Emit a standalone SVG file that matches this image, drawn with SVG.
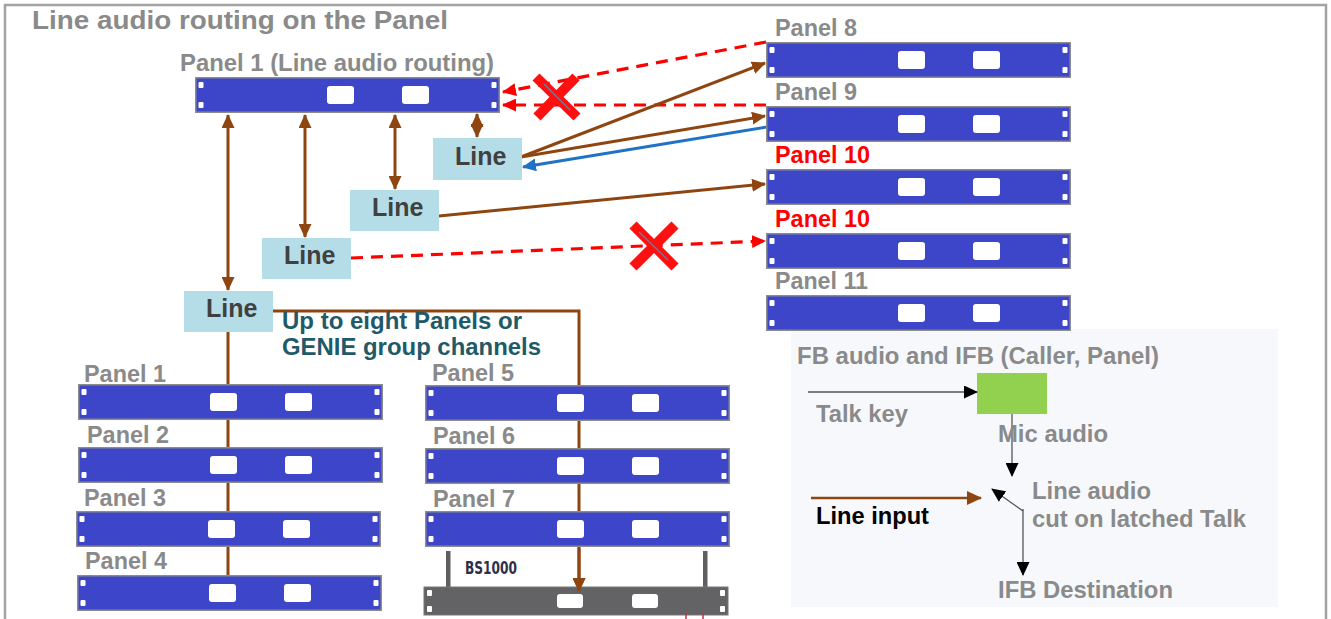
<svg xmlns="http://www.w3.org/2000/svg" width="1331" height="619" viewBox="0 0 1331 619">
<style>
.t{font-family:"Liberation Sans",Arial,sans-serif;font-weight:bold;}
.g{fill:#8a8a8a;font-size:23px;}
.r{fill:#ff0000;font-size:23px;}
.ttl{fill:#8a8a8a;font-size:26px;}
.ln{fill:#404040;font-size:25px;}
.teal{fill:#1f5a68;font-size:23px;}
.box{fill:#b5dde8;}
.br{stroke:#8f4510;stroke-width:3;fill:none;}
.rd{stroke:#ff0000;stroke-width:3.2;stroke-dasharray:12 8;fill:none;}
.bl{stroke:#1f72c4;stroke-width:3;fill:none;}
.thin{stroke:#555;stroke-width:1.3;fill:none;}
.xarm{stroke:#ff1010;stroke-width:10;}
.xin{stroke:#6a7fa8;stroke-width:1.2;}
</style>
<defs>
<symbol id="rack" viewBox="0 0 305 36" width="305" height="36">
<rect x="0.75" y="0.75" width="303.5" height="34.5" fill="#3d46c8" stroke="#8c8c8c" stroke-width="1.5"/>
<rect x="3.5" y="5" width="5" height="6" rx="1" fill="#fff"/>
<rect x="3.5" y="25" width="5" height="6" rx="1" fill="#fff"/>
<rect x="296.5" y="5" width="5" height="6" rx="1" fill="#fff"/>
<rect x="296.5" y="25" width="5" height="6" rx="1" fill="#fff"/>
<rect x="132" y="9" width="27" height="18" rx="3" fill="#fff"/>
<rect x="207" y="9" width="27" height="18" rx="3" fill="#fff"/>
</symbol>
<marker id="ab" viewBox="0 0 14 13" refX="13" refY="6.5" markerWidth="14" markerHeight="13" markerUnits="userSpaceOnUse" orient="auto-start-reverse"><path d="M0,0 L14,6.5 L0,13 z" fill="#8f4510"/></marker>
<marker id="ar" viewBox="0 0 14 13" refX="13" refY="6.5" markerWidth="14" markerHeight="13" markerUnits="userSpaceOnUse" orient="auto-start-reverse"><path d="M0,0 L14,6.5 L0,13 z" fill="#ff0000"/></marker>
<marker id="abl" viewBox="0 0 14 13" refX="13" refY="6.5" markerWidth="14" markerHeight="13" markerUnits="userSpaceOnUse" orient="auto-start-reverse"><path d="M0,0 L14,6.5 L0,13 z" fill="#1f72c4"/></marker>
<marker id="ak" viewBox="0 0 14 13" refX="13" refY="6.5" markerWidth="14" markerHeight="13" markerUnits="userSpaceOnUse" orient="auto"><path d="M0,0 L14,6.5 L0,13 z" fill="#000"/></marker>
<marker id="abig" viewBox="0 0 15 14" refX="14" refY="7" markerWidth="15" markerHeight="14" markerUnits="userSpaceOnUse" orient="auto"><path d="M0,0 L15,7 L0,14 z" fill="#8f4510"/></marker>
</defs>

<rect x="5" y="5" width="1321" height="630" fill="#fff" stroke="#a3a3a3" stroke-width="2.5"/>
<text class="t ttl" x="32" y="29" textLength="416" lengthAdjust="spacingAndGlyphs">Line audio routing on the Panel</text>

<rect id="legend-bg" x="791" y="329" width="487" height="278" fill="#f7f8fc"/>

<g id="connectors">
<line class="br" x1="228" y1="331" x2="228" y2="577"/>
<polyline class="br" points="273,311 579,311 579,591" marker-end="url(#ab)"/>
<line class="br" x1="228" y1="115" x2="228" y2="290" marker-start="url(#ab)" marker-end="url(#ab)"/>
<line class="br" x1="305" y1="115" x2="305" y2="237" marker-start="url(#ab)" marker-end="url(#ab)"/>
<line class="br" x1="395" y1="115" x2="395" y2="189" marker-start="url(#ab)" marker-end="url(#ab)"/>
<line class="br" x1="477" y1="114" x2="477" y2="137" marker-start="url(#ab)" marker-end="url(#ab)"/>
<line class="rd" x1="766" y1="42" x2="503" y2="92" marker-end="url(#ar)"/>
<line class="rd" x1="766" y1="105" x2="503" y2="105" marker-end="url(#ar)"/>
<line class="br" x1="521" y1="157" x2="765" y2="63" marker-end="url(#ab)"/>
<line class="br" x1="521" y1="157" x2="765" y2="116" marker-end="url(#ab)"/>
<line class="bl" x1="767" y1="127" x2="523" y2="167" marker-end="url(#abl)"/>
<line class="br" x1="439" y1="216" x2="765" y2="184" marker-end="url(#ab)"/>
<line class="rd" x1="351" y1="258" x2="765" y2="241" marker-end="url(#ar)"/>
<g id="x1">
<line class="xarm" x1="536" y1="77" x2="577" y2="117"/>
<line class="xarm" x1="576" y1="77" x2="537" y2="117"/>
<line class="xin" x1="544" y1="84" x2="570" y2="110"/>
</g>
<g id="x2">
<line class="xarm" x1="633" y1="225" x2="675" y2="267"/>
<line class="xarm" x1="675" y1="225" x2="633" y2="267"/>
<line class="xin" x1="639" y1="232" x2="668" y2="260"/>
</g>
</g>

<g id="panel1-top">
<text class="t g" x="180" y="71" textLength="314" lengthAdjust="spacingAndGlyphs">Panel 1 (Line audio routing)</text>
<use href="#rack" x="195" y="77"/>
</g>
<g id="panel8"><text class="t g" x="775" y="36" textLength="82" lengthAdjust="spacingAndGlyphs">Panel 8</text><use href="#rack" x="766" y="42"/></g>
<g id="panel9"><text class="t g" x="775" y="100" textLength="82" lengthAdjust="spacingAndGlyphs">Panel 9</text><use href="#rack" x="766" y="106"/></g>
<g id="panel10a"><text class="t r" x="775" y="163" textLength="95" lengthAdjust="spacingAndGlyphs">Panel 10</text><use href="#rack" x="766" y="169"/></g>
<g id="panel10b"><text class="t r" x="775" y="227" textLength="95" lengthAdjust="spacingAndGlyphs">Panel 10</text><use href="#rack" x="766" y="233"/></g>
<g id="panel11"><text class="t g" x="775" y="289" textLength="93" lengthAdjust="spacingAndGlyphs">Panel 11</text><use href="#rack" x="766" y="295"/></g>

<g id="lineA"><rect class="box" x="433" y="138" width="89" height="42"/><text class="t ln" x="455" y="165">Line</text></g>
<g id="lineB"><rect class="box" x="350" y="190" width="89" height="41"/><text class="t ln" x="372" y="216">Line</text></g>
<g id="lineC"><rect class="box" x="262" y="238" width="89" height="41"/><text class="t ln" x="284" y="264">Line</text></g>
<g id="lineD"><rect class="box" x="184" y="291" width="89" height="41"/><text class="t ln" x="206" y="317">Line</text></g>

<g id="note">
<text class="t teal" x="282" y="329" textLength="240" lengthAdjust="spacingAndGlyphs">Up to eight Panels or</text>
<text class="t teal" x="282" y="355" textLength="259" lengthAdjust="spacingAndGlyphs">GENIE group channels</text>
</g>

<g id="panelB1"><text class="t g" x="84" y="382" textLength="82" lengthAdjust="spacingAndGlyphs">Panel 1</text><use href="#rack" x="78" y="384"/></g>
<g id="panelB2"><text class="t g" x="87" y="443" textLength="82" lengthAdjust="spacingAndGlyphs">Panel 2</text><use href="#rack" x="78" y="447"/></g>
<g id="panelB3"><text class="t g" x="84" y="506" textLength="82" lengthAdjust="spacingAndGlyphs">Panel 3</text><use href="#rack" x="76" y="511"/></g>
<g id="panelB4"><text class="t g" x="85" y="569" textLength="82" lengthAdjust="spacingAndGlyphs">Panel 4</text><use href="#rack" x="77" y="575"/></g>

<g id="panel5"><text class="t g" x="432" y="381" textLength="82" lengthAdjust="spacingAndGlyphs">Panel 5</text><use href="#rack" x="425" y="385"/></g>
<g id="panel6"><text class="t g" x="433" y="444" textLength="82" lengthAdjust="spacingAndGlyphs">Panel 6</text><use href="#rack" x="425" y="448"/></g>
<g id="panel7"><text class="t g" x="433" y="507" textLength="82" lengthAdjust="spacingAndGlyphs">Panel 7</text><use href="#rack" x="425" y="511"/></g>

<g id="bs1000">
<rect x="446" y="551" width="4.5" height="37" fill="#5f5f62"/>
<rect x="703" y="551" width="4.5" height="37" fill="#5f5f62"/>
<text x="465" y="574" font-family="'DejaVu Sans Condensed','Liberation Sans',Arial,sans-serif" font-size="17" font-weight="bold" fill="#2d3047" textLength="52" lengthAdjust="spacingAndGlyphs">BS1000</text>
<rect x="424" y="587" width="304" height="28" fill="#636366" stroke="#777" stroke-width="1"/>
<rect x="427" y="590" width="5" height="6" rx="1" fill="#fff"/>
<rect x="427" y="606" width="5" height="6" rx="1" fill="#fff"/>
<rect x="720" y="590" width="5" height="6" rx="1" fill="#fff"/>
<rect x="720" y="606" width="5" height="6" rx="1" fill="#fff"/>
<rect x="557" y="594" width="26" height="14" rx="3" fill="#fff"/>
<rect x="632" y="594" width="26" height="14" rx="3" fill="#fff"/>
<line x1="579" y1="548" x2="579" y2="591" stroke="#8f4510" stroke-width="3" marker-end="url(#ab)"/>
<line x1="686" y1="613" x2="686" y2="619" stroke="#c0304a" stroke-width="1.5"/>
<line x1="703" y1="613" x2="703" y2="619" stroke="#c0304a" stroke-width="1.5"/>
</g>

<g id="legend">
<text class="t g" x="797" y="364" textLength="362" lengthAdjust="spacingAndGlyphs">FB audio and IFB (Caller, Panel)</text>
<rect id="mic" x="977" y="373" width="70" height="41" fill="#92d050"/>
<line class="thin" x1="808" y1="392" x2="977" y2="392" marker-end="url(#ak)"/>
<text class="t g" x="816" y="422" textLength="92" lengthAdjust="spacingAndGlyphs">Talk key</text>
<line class="thin" x1="1012" y1="414" x2="1012" y2="476" marker-end="url(#ak)"/>
<text class="t g" x="998" y="442" textLength="110" lengthAdjust="spacingAndGlyphs">Mic audio</text>
<line x1="811" y1="498" x2="981" y2="498" stroke="#8f4510" stroke-width="2.5" marker-end="url(#abig)"/>
<text class="t" x="816" y="524" font-size="23" fill="#000" textLength="113" lengthAdjust="spacingAndGlyphs">Line input</text>
<line class="thin" x1="1023" y1="511" x2="992" y2="489" marker-end="url(#ak)"/>
<line class="thin" x1="1023" y1="509" x2="1023" y2="575" marker-end="url(#ak)"/>
<text class="t g" x="1032" y="499" textLength="119" lengthAdjust="spacingAndGlyphs">Line audio</text>
<text class="t g" x="1032" y="527" textLength="214" lengthAdjust="spacingAndGlyphs">cut on latched Talk</text>
<text class="t g" x="998" y="598" textLength="175" lengthAdjust="spacingAndGlyphs">IFB Destination</text>
</g>
</svg>
